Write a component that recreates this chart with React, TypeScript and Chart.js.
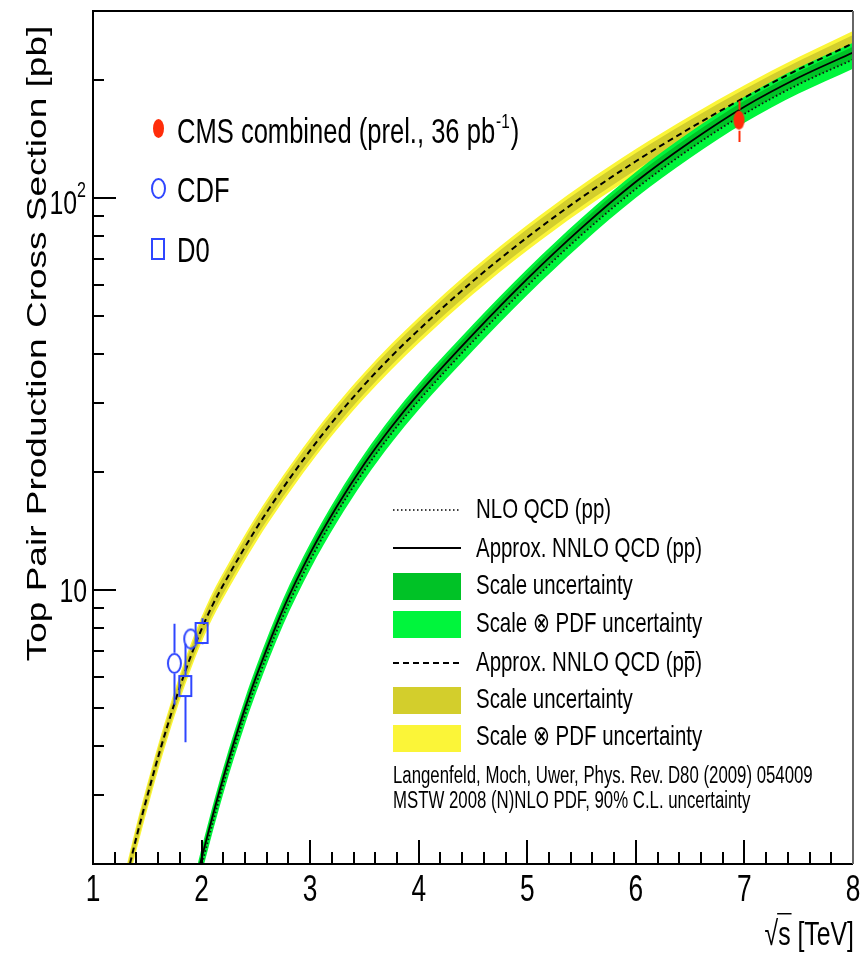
import React, { useEffect, useRef } from "react";
import { Chart, registerables } from "chart.js";

Chart.register(...registerables);

// ---------- theory: top-pair cross section [pb] vs sqrt(s) [TeV] ----------
// proton-proton
const ppSqrtS = [1.95, 2.0, 2.1, 2.2, 2.3, 2.4, 2.5, 2.75, 3.0, 3.25, 3.5, 3.75, 4.0, 4.5, 5.0, 5.5, 6.0, 6.5, 7.0, 7.5, 8.0];
const ppApproxNNLO = [1.82, 2.07, 2.64, 3.32, 4.1, 4.99, 5.98, 8.93, 12.4, 16.4, 21.0, 26.1, 31.7, 44.9, 62.2, 83.9, 110, 139, 171, 203, 235];
const ppNLO = [1.75, 1.98, 2.53, 3.19, 3.94, 4.79, 5.74, 8.57, 11.9, 15.8, 20.2, 25.1, 30.4, 43.1, 59.7, 80.5, 105.5, 133.5, 164, 195, 225.5];
// relative uncertainties [%]
const ppScaleUp = [3.5, 3.5, 3.5, 3.5, 3.5, 3.5, 3.5, 3.5, 3.5, 3.5, 3.5, 3.5, 3.5, 3.5, 3.5, 3.5, 3.5, 3.5, 3.5, 3.5, 3.5];
const ppScaleDown = [4, 4, 4, 4, 4, 4, 4, 4, 4, 4, 4, 4, 4, 4, 4, 4, 4, 4, 4, 4, 4];
const ppTotalUp = [6, 6, 6, 6, 6, 6, 6, 6, 6, 6, 6, 6, 6, 6, 6, 6, 6, 6, 6, 6, 6];
const ppTotalDown = [9, 9, 9, 9, 9, 9, 9, 9, 9, 9, 9, 9, 9, 9, 9, 9, 9, 9, 9, 9, 9];

// proton-antiproton
const ppbarSqrtS = [1.3, 1.34, 1.4, 1.5, 1.6, 1.7, 1.8, 1.9, 2.0, 2.1, 2.25, 2.5, 2.75, 3.0, 3.25, 3.5, 3.75, 4.0, 4.5, 5.0, 5.5, 6.0, 6.5, 7.0, 7.5, 8.0];
const ppbarApproxNNLO = [1.79, 2.0, 2.34, 2.98, 3.75, 4.64, 5.66, 6.77, 7.95, 9.14, 10.9, 14.3, 18.2, 22.7, 27.8, 33.4, 39.5, 46.1, 61.4, 79.4, 100.3, 124.1, 150.7, 180.4, 212.9, 248.1];
const ppbarScaleUp = [5, 5, 5, 5, 5, 5, 5, 5, 5, 5, 5, 5, 5, 5, 5, 5, 5, 5, 5, 5, 5, 5, 5, 5, 5, 5];
const ppbarScaleDown = [5, 5, 5, 5, 5, 5, 5, 5, 5, 5, 5, 5, 5, 5, 5, 5, 5, 5, 5, 5, 5, 5, 5, 5, 5, 5];
const ppbarTotalUp = [7.5, 7.5, 7.5, 7.5, 7.5, 7.5, 7.5, 7.5, 7.5, 7.5, 7.5, 7.5, 7.5, 7.5, 7.5, 7.5, 7.5, 7.5, 7.5, 7.5, 7.5, 7.5, 7.5, 7.5, 7.5, 7.5];
const ppbarTotalDown = [7.5, 7.5, 7.5, 7.5, 7.5, 7.5, 7.5, 7.5, 7.5, 7.5, 7.5, 7.5, 7.5, 7.5, 7.5, 7.5, 7.5, 7.5, 7.5, 7.5, 7.5, 7.5, 7.5, 7.5, 7.5, 7.5];

// ---------- measurements ----------
const cmsSqrtS = [6.95];
const cmsXsec = [158];
const cmsErrUp = [19];
const cmsErrDown = [19];

const cdfSqrtS = [1.75, 1.9];
const cdfXsec = [6.5, 7.5];
const cdfErrUp = [1.7, 0.48];
const cdfErrDown = [1.4, 0.48];

const d0SqrtS = [1.85, 2.0];
const d0Xsec = [5.69, 7.77];
const d0ErrUp = [1.6, 0.7];
const d0ErrDown = [1.6, 0.5];

// ---------- axes ----------
const xMin = 1;
const xMax = 8;
const yMin = 2;
const yMax = 300;
const xTickLabels = ["1", "2", "3", "4", "5", "6", "7", "8"];
const xMajorTicks = [1, 2, 3, 4, 5, 6, 7, 8];
const yMajorTicks = [10, 100];
const yMinorTicks = [2, 3, 4, 5, 6, 7, 8, 9, 20, 30, 40, 50, 60, 70, 80, 90, 200];

// ---------- styling ----------
const FONT = '"Liberation Sans", Arial, Helvetica, "DejaVu Sans", sans-serif';
const SX = 0.73; // condensed lettering
const GREEN_SCALE = "#00c226";
const GREEN_TOTAL = "#00f53c";
const OLIVE = "#d3ce2c";
const YELLOW = "#fbf538";
const BLUE = "#2f46ff";
const RED = "#ff2d0a";

function makeMarker(kind: "ring" | "box" | "dot", color: string, w: number, h: number) {
  const lw = 2;
  const c = document.createElement("canvas");
  c.width = w + 2;
  c.height = h + 2;
  const g = c.getContext("2d")!;
  g.lineWidth = lw;
  g.strokeStyle = color;
  g.fillStyle = color;
  const cx = c.width / 2;
  const cy = c.height / 2;
  if (kind === "box") {
    g.strokeRect(cx - w / 2 + lw / 2, cy - h / 2 + lw / 2, w - lw, h - lw);
  } else {
    g.beginPath();
    g.ellipse(cx, cy, w / 2 - lw / 2, h / 2 - lw / 2, 0, 0, Math.PI * 2);
    if (kind === "dot") g.fill();
    else g.stroke();
  }
  return c;
}

function pts(xs: number[], ys: number[]) {
  return xs.map((x, i) => ({ x, y: ys[i] }));
}
function bandEdge(xs: number[], ys: number[], pct: number[], sign: number) {
  return xs.map((x, i) => ({ x, y: ys[i] * (1 + (sign * pct[i]) / 100) }));
}

function drawText(
  ctx: CanvasRenderingContext2D,
  s: string,
  x: number,
  y: number,
  size: number,
  align: CanvasTextAlign = "left"
) {
  ctx.save();
  ctx.font = `${size}px ${FONT}`;
  ctx.textAlign = align;
  ctx.textBaseline = "alphabetic";
  ctx.fillStyle = "#000";
  ctx.translate(x, y);
  ctx.scale(SX, 1);
  ctx.fillText(s, 0, 0);
  const w = ctx.measureText(s).width * SX;
  ctx.restore();
  return w;
}

export default function App() {
  const ref = useRef<HTMLCanvasElement>(null);

  useEffect(() => {
    const canvas = ref.current;
    if (!canvas) return;

    const cmsMarker = makeMarker("dot", RED, 13, 21);
    const cdfMarker = makeMarker("ring", BLUE, 15, 21);
    const d0Marker = makeMarker("box", BLUE, 14, 22);

    const bandStyle = (color: string, order: number, fill: any) => ({
      borderWidth: 0,
      pointRadius: 0,
      backgroundColor: color,
      borderColor: color,
      fill,
      order,
      cubicInterpolationMode: "monotone" as const,
    });

    const measurements = [
      { xs: cmsSqrtS, ys: cmsXsec, up: cmsErrUp, down: cmsErrDown, color: RED, half: 10.5 },
      { xs: cdfSqrtS, ys: cdfXsec, up: cdfErrUp, down: cdfErrDown, color: BLUE, half: 10.5 },
      { xs: d0SqrtS, ys: d0Xsec, up: d0ErrUp, down: d0ErrDown, color: BLUE, half: 11 },
    ];

    const errorBars = {
      id: "errorBars",
      afterDatasetsDraw(chart: any) {
        const { ctx, chartArea: a } = chart;
        const xs = chart.scales.x;
        const ys = chart.scales.y;
        ctx.save();
        ctx.beginPath();
        ctx.rect(a.left, a.top, a.right - a.left, a.bottom - a.top);
        ctx.clip();
        ctx.lineWidth = 2;
        for (const m of measurements) {
          ctx.strokeStyle = m.color;
          m.xs.forEach((e, i) => {
            const px = Math.round(xs.getPixelForValue(e)) + 0.5;
            const py = ys.getPixelForValue(m.ys[i]);
            const top = ys.getPixelForValue(m.ys[i] + m.up[i]);
            const bot = ys.getPixelForValue(m.ys[i] - m.down[i]);
            ctx.beginPath();
            if (top < py - m.half) {
              ctx.moveTo(px, top);
              ctx.lineTo(px, py - m.half);
            }
            if (bot > py + m.half) {
              ctx.moveTo(px, py + m.half);
              ctx.lineTo(px, bot);
            }
            ctx.stroke();
          });
        }
        ctx.restore();
      },
    };

    const decorations = {
      id: "decorations",
      afterDraw(chart: any) {
        const { ctx, chartArea: a } = chart;
        const xs = chart.scales.x;
        const ys = chart.scales.y;
        ctx.save();

        // ticks (pointing inward)
        ctx.strokeStyle = "#000";
        ctx.lineWidth = 2;
        ctx.beginPath();
        for (let v = xMin; v <= xMax + 1e-6; v += 0.2) {
          const px = Math.round(xs.getPixelForValue(v));
          const isMajor = Math.abs(v - Math.round(v)) < 1e-6;
          ctx.moveTo(px, a.bottom);
          ctx.lineTo(px, a.bottom - (isMajor ? 24 : 12));
        }
        for (const v of yMajorTicks) {
          const py = Math.round(ys.getPixelForValue(v));
          ctx.moveTo(a.left, py);
          ctx.lineTo(a.left + 23, py);
        }
        for (const v of yMinorTicks) {
          const py = Math.round(ys.getPixelForValue(v));
          ctx.moveTo(a.left, py);
          ctx.lineTo(a.left + 11, py);
        }
        ctx.stroke();

        // frame
        ctx.lineWidth = 2;
        ctx.strokeStyle = "#000";
        ctx.beginPath();
        ctx.moveTo(a.right, a.top);
        ctx.lineTo(a.left, a.top);
        ctx.lineTo(a.left, a.bottom);
        ctx.lineTo(a.right, a.bottom);
        ctx.stroke();
        ctx.strokeStyle = "#666";
        ctx.beginPath();
        ctx.moveTo(a.right, a.top);
        ctx.lineTo(a.right, a.bottom);
        ctx.stroke();

        // tick labels
        xMajorTicks.forEach((v, i) => {
          drawText(ctx, xTickLabels[i], xs.getPixelForValue(v), a.bottom + 37, 36, "center");
        });
        const y10 = ys.getPixelForValue(10);
        drawText(ctx, "10", a.left - 6, y10 + 12, 34, "right");
        const y100 = ys.getPixelForValue(100);
        const supW = drawText(ctx, "2", a.left - 7, y100 - 1, 22, "right");
        drawText(ctx, "10", a.left - 7 - supW, y100 + 16, 34, "right");

        // axis titles
        {
          const size = 34;
          const base = 945;
          const right = a.right + 1;
          const wRest = drawText(ctx, " [TeV]", right, base, size, "right");
          const wS = drawText(ctx, "s", right - wRest, base, size, "right");
          drawText(ctx, "\u221A", right - wRest - wS, base, size, "right");
          ctx.lineWidth = 1.5;
          ctx.strokeStyle = "#000";
          ctx.beginPath();
          const topY = base - size * 0.92;
          ctx.moveTo(right - wRest - wS - 1, topY);
          ctx.lineTo(right - wRest + 1, topY);
          ctx.stroke();
        }
        ctx.save();
        ctx.font = `37px ${FONT}`;
        ctx.fillStyle = "#000";
        ctx.textAlign = "center";
        ctx.textBaseline = "alphabetic";
        ctx.translate(46, (a.top + 676) / 2);
        ctx.scale(SX, 1);
        ctx.rotate(-Math.PI / 2);
        ctx.fillText("Top Pair Production Cross Section [pb]", 0, 0);
        ctx.restore();

        // measurement legend
        const mk = (img: HTMLCanvasElement, x: number, y: number) =>
          ctx.drawImage(img, Math.round(x - img.width / 2), Math.round(y - img.height / 2));
        mk(cmsMarker, 158, 128);
        mk(cdfMarker, 158, 188);
        mk(d0Marker, 158, 249);
        {
          const base = 143;
          let x = 177;
          x += drawText(ctx, "CMS combined (prel., 36 pb", x, base, 35);
          x += 1;
          x += drawText(ctx, "-1", x, base - 15, 21);
          drawText(ctx, ")", x + 1, base, 35);
        }
        drawText(ctx, "CDF", 177, 202, 35);
        drawText(ctx, "D0", 177, 262, 35);

        // theory legend
        const lx0 = 393;
        const lx1 = 461;
        const tx = 476;
        const line = (y: number, dash: number[], w: number) => {
          ctx.save();
          ctx.strokeStyle = "#000";
          ctx.lineWidth = w;
          ctx.setLineDash(dash);
          ctx.beginPath();
          ctx.moveTo(lx0, y);
          ctx.lineTo(lx1, y);
          ctx.stroke();
          ctx.restore();
        };
        const swatch = (y0: number, color: string) => {
          ctx.fillStyle = color;
          ctx.fillRect(lx0, y0, lx1 - lx0, 27);
        };
        line(510, [1.5, 2.5], 1.5);
        drawText(ctx, "NLO QCD (pp)", tx, 518, 28);
        line(548, [], 2);
        drawText(ctx, "Approx. NNLO QCD (pp)", tx, 557, 28);
        swatch(573, GREEN_SCALE);
        drawText(ctx, "Scale uncertainty", tx, 594, 28);
        swatch(611, GREEN_TOTAL);
        drawText(ctx, "Scale \u2297 PDF uncertainty", tx, 632, 28);
        line(663, [6, 4], 2);
        {
          const base = 671;
          const w1 = drawText(ctx, "Approx. NNLO QCD (p", tx, base, 28);
          const wp = drawText(ctx, "p", tx + w1, base, 28);
          drawText(ctx, ")", tx + w1 + wp, base, 28);
          ctx.strokeStyle = "#000";
          ctx.lineWidth = 2;
          ctx.beginPath();
          ctx.moveTo(tx + w1 + 1, base - 19);
          ctx.lineTo(tx + w1 + wp - 1, base - 19);
          ctx.stroke();
        }
        swatch(687, OLIVE);
        drawText(ctx, "Scale uncertainty", tx, 708, 28);
        swatch(725, YELLOW);
        drawText(ctx, "Scale \u2297 PDF uncertainty", tx, 745, 28);
        drawText(ctx, "Langenfeld, Moch, Uwer, Phys. Rev. D80 (2009) 054009", lx0, 783, 23);
        drawText(ctx, "MSTW 2008 (N)NLO PDF, 90% C.L. uncertainty", lx0, 808, 23);

        ctx.restore();
      },
    };

    const chart = new Chart(canvas, {
      type: "line",
      data: {
        datasets: [
          // p-pbar bands
          { ...bandStyle(YELLOW, 20, "+1"), data: bandEdge(ppbarSqrtS, ppbarApproxNNLO, ppbarTotalUp, 1) },
          { ...bandStyle(YELLOW, 20, false), data: bandEdge(ppbarSqrtS, ppbarApproxNNLO, ppbarTotalDown, -1) },
          { ...bandStyle(OLIVE, 19, "+1"), data: bandEdge(ppbarSqrtS, ppbarApproxNNLO, ppbarScaleUp, 1) },
          { ...bandStyle(OLIVE, 19, false), data: bandEdge(ppbarSqrtS, ppbarApproxNNLO, ppbarScaleDown, -1) },
          // p-p bands
          { ...bandStyle(GREEN_TOTAL, 18, "+1"), data: bandEdge(ppSqrtS, ppApproxNNLO, ppTotalUp, 1) },
          { ...bandStyle(GREEN_TOTAL, 18, false), data: bandEdge(ppSqrtS, ppApproxNNLO, ppTotalDown, -1) },
          { ...bandStyle(GREEN_SCALE, 17, "+1"), data: bandEdge(ppSqrtS, ppApproxNNLO, ppScaleUp, 1) },
          { ...bandStyle(GREEN_SCALE, 17, false), data: bandEdge(ppSqrtS, ppApproxNNLO, ppScaleDown, -1) },
          // central curves
          {
            data: pts(ppSqrtS, ppNLO),
            borderColor: "#111",
            borderWidth: 1.8,
            borderDash: [1.5, 2.5],
            pointRadius: 0,
            fill: false,
            order: 5,
            cubicInterpolationMode: "monotone",
          },
          {
            data: pts(ppSqrtS, ppApproxNNLO),
            borderColor: "#000",
            borderWidth: 1.8,
            pointRadius: 0,
            fill: false,
            order: 4,
            cubicInterpolationMode: "monotone",
          },
          {
            data: pts(ppbarSqrtS, ppbarApproxNNLO),
            borderColor: "#000",
            borderWidth: 2,
            borderDash: [6, 4],
            pointRadius: 0,
            fill: false,
            order: 3,
            cubicInterpolationMode: "monotone",
          },
          // measurements
          { data: pts(cmsSqrtS, cmsXsec), showLine: false, pointStyle: cmsMarker, pointRadius: 10, order: 1 },
          { data: pts(cdfSqrtS, cdfXsec), showLine: false, pointStyle: cdfMarker, pointRadius: 10, order: 1 },
          { data: pts(d0SqrtS, d0Xsec), showLine: false, pointStyle: d0Marker, pointRadius: 10, order: 1 },
        ] as any,
      },
      options: {
        responsive: false,
        animation: false,
        devicePixelRatio: 1,
        layout: { padding: { left: 93, right: 7, top: 11, bottom: 90 } },
        scales: {
          x: { type: "linear", min: xMin, max: xMax, display: false },
          y: { type: "logarithmic", min: yMin, max: yMax, display: false },
        },
        plugins: {
          legend: { display: false },
          tooltip: { enabled: false },
        },
      },
      plugins: [errorBars, decorations],
    });

    return () => chart.destroy();
  }, []);

  return (
    <div style={{ position: "fixed", left: 0, top: 0, width: 864, height: 954, background: "#fff" }}>
      <canvas ref={ref} width={864} height={954} style={{ display: "block", width: 864, height: 954 }} />
    </div>
  );
}
